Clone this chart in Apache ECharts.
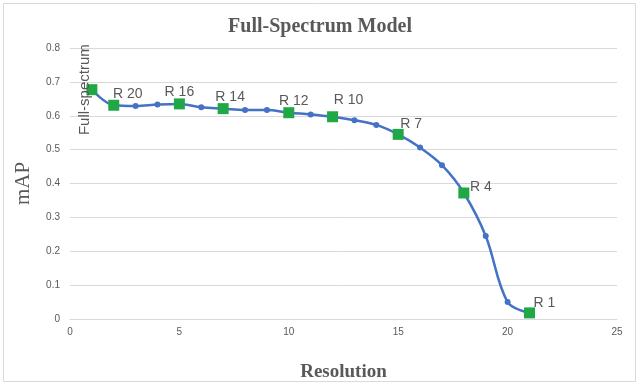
<!DOCTYPE html>
<html style="height: 100%">
<head>
    <meta charset="utf-8">
    <script src="https://cdn.jsdelivr.net/npm/echarts@6/dist/echarts.min.js"></script>
</head>
<body style="height: 100%; margin: 0; background: #fff">
    <div id="main" style="width:640px;height:387px;"></div>
    <script type="text/javascript">
    // 数据
    var resolution = [1, 2, 3, 4, 5, 6, 7, 8, 9, 10, 11, 12, 13, 14, 15, 16, 17, 18, 19, 20, 21];
    var mAP = [0.677, 0.631, 0.629, 0.633, 0.635, 0.625, 0.621, 0.617, 0.617, 0.609, 0.604,
        0.597, 0.587, 0.573, 0.545, 0.506, 0.454, 0.372, 0.245, 0.050, 0.018];
    var markedX = [1, 2, 5, 7, 10, 12, 15, 18, 21];
    var markedNames = ['Full-spectrum', 'R 20', 'R 16', 'R 14', 'R 12', 'R 10', 'R 7', 'R 4', 'R 1'];
    var xTicks = [0, 5, 10, 15, 20, 25];

    // 标签偏移 (样式)
    var labelShift = [[0, 0], [14, 6], [0, 6], [7, 6], [5, 6], [16, 1], [13, 7], [17, 12], [15, 8]];

    var myChart = echarts.init(document.getElementById('main'));

    var marked = markedX.map(function(x, i) {
        var item = { name: markedNames[i], value: [x, mAP[resolution.indexOf(x)]] };
        if (i === 0) {
            item.label = {
                rotate: 90,
                position: 'left',
                align: 'center',
                verticalAlign: 'middle',
                distance: 2,
                fontSize: 15
            };
        } else {
            item.label = { offset: labelShift[i] };
        }
        return item;
    });

    var option = {
        backgroundColor: '#fff',
        animation: false,
        title: {
            text: 'Full-Spectrum Model',
            left: 'center',
            top: 12,
            textStyle: {
                fontFamily: 'Liberation Serif',
                fontWeight: 'bold',
                fontSize: 20,
                color: '#595959'
            }
        },
        graphic: [{
            type: 'rect',
            shape: { x: 3.5, y: 3.5, width: 632, height: 378 },
            style: { fill: 'none', stroke: '#d9d9d9', lineWidth: 1 },
            silent: true
        }],
        grid: { left: 70, right: 23, top: 48, bottom: 66 },
        xAxis: {
            type: 'value',
            min: 0,
            max: 25,
            interval: 5,
            name: 'Resolution',
            nameLocation: 'middle',
            nameGap: 44,
            nameTextStyle: {
                fontFamily: 'Liberation Serif',
                fontWeight: 'bold',
                fontSize: 19,
                color: '#595959'
            },
            axisLine: { lineStyle: { color: '#d9d9d9' } },
            axisTick: { show: false },
            splitLine: { show: false },
            axisLabel: {
                color: '#595959',
                fontSize: 10,
                fontFamily: 'Liberation Sans',
                margin: 8,
                formatter: function(v) { return xTicks.indexOf(v) >= 0 ? String(v) : ''; }
            }
        },
        yAxis: {
            type: 'value',
            min: 0,
            max: 0.8,
            interval: 0.1,
            name: 'mAP',
            nameLocation: 'middle',
            nameGap: 36,
            nameTextStyle: {
                fontFamily: 'Liberation Serif',
                fontSize: 21,
                color: '#595959'
            },
            axisLine: { show: false },
            axisTick: { show: false },
            splitLine: { lineStyle: { color: '#d9d9d9' } },
            axisLabel: {
                color: '#595959',
                fontSize: 10,
                fontFamily: 'Liberation Sans',
                margin: 10,
                formatter: function(v) { return String(Math.round(v * 10) / 10); }
            }
        },
        series: [{
            type: 'line',
            data: resolution.map(function(x, i) { return [x, mAP[i]]; }),
            smooth: 0.35,
            symbol: 'circle',
            symbolSize: 6,
            itemStyle: { color: '#4472c4' },
            lineStyle: { color: '#4472c4', width: 2.5 },
            z: 2
        }, {
            type: 'scatter',
            data: marked,
            symbol: 'rect',
            symbolSize: 11,
            itemStyle: { color: '#21a846', opacity: 1 },
            label: {
                show: true,
                position: 'top',
                fontFamily: 'Liberation Sans',
                fontSize: 14,
                color: '#595959',
                formatter: function(p) { return p.name; }
            },
            z: 3
        }]
    };

    myChart.setOption(option, true);
    </script>
</body>
</html>
